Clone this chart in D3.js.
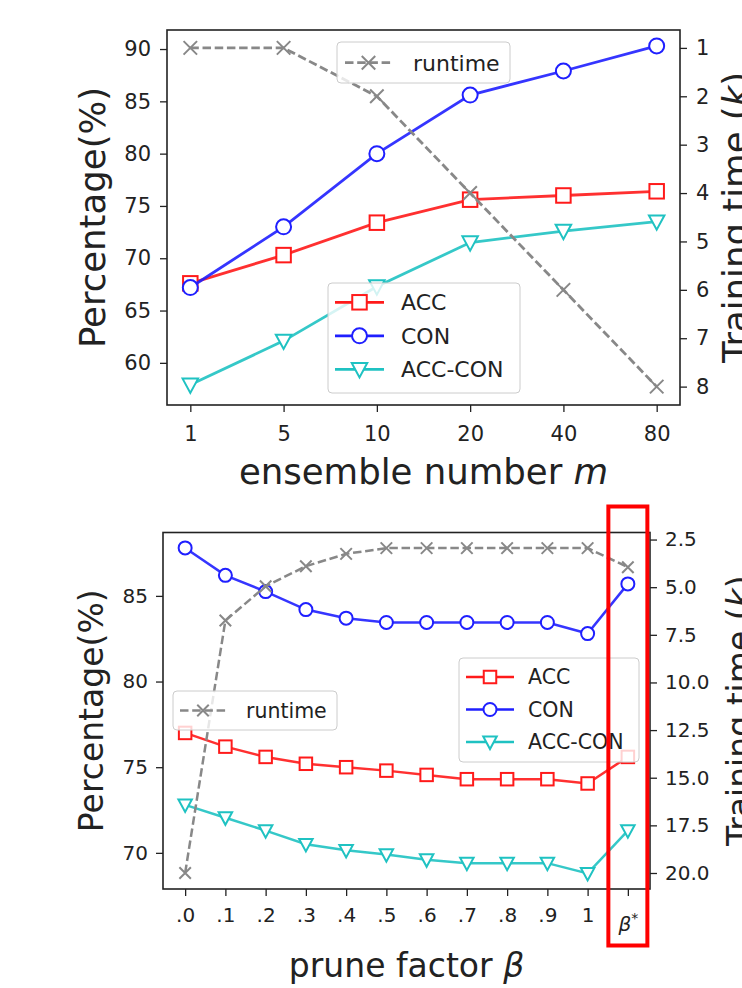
<!DOCTYPE html>
<html>
<head>
<meta charset="utf-8">
<script src="https://cdn.jsdelivr.net/npm/d3@7"></script>
<style>
  body { margin: 0; background: #fff; }
  svg { display: block; font-family: "DejaVu Sans", sans-serif; }
</style>
</head>
<body>
<script>
// top panel: ensemble number m
const mLabels = ["1", "5", "10", "20", "40", "80"];
const mAcc = [67.6, 70.3, 73.4, 75.6, 76.0, 76.4];
const mCon = [67.2, 73.0, 80.0, 85.6, 87.9, 90.3];
const mAccCon = [57.9, 62.1, 67.3, 71.5, 72.6, 73.5];
const mRuntime = [1, 1, 2, 4, 6, 8];
const mPctTicks = [60, 65, 70, 75, 80, 85, 90];
const mTimeTicks = [1, 2, 3, 4, 5, 6, 7, 8];

// bottom panel: prune factor beta
const bLabels = [".0", ".1", ".2", ".3", ".4", ".5", ".6", ".7", ".8", ".9", "1", "β*"];
const bAcc = [77.0, 76.2, 75.6, 75.2, 75.0, 74.8, 74.55, 74.3, 74.3, 74.3, 74.05, 75.6];
const bCon = [87.8, 86.2, 85.25, 84.2, 83.7, 83.45, 83.45, 83.45, 83.45, 83.45, 82.8, 85.7];
const bAccCon = [72.8, 72.05, 71.3, 70.5, 70.15, 69.9, 69.6, 69.4, 69.4, 69.4, 68.8, 71.3];
const bRuntime = [20.0, 6.75, 4.95, 3.9, 3.25, 2.95, 2.95, 2.95, 2.95, 2.95, 2.95, 3.95];
const bPctTicks = [70, 75, 80, 85];
const bTimeTicks = [2.5, 5, 7.5, 10, 12.5, 15, 17.5, 20];

const red = "#ff1a1a", blue = "#1f1fff", cyan = "#1fc2c2", grey = "#888888";

const svg = d3.select("body").append("svg").attr("width", 742).attr("height", 988);

function marker(g, shape, cx, cy, color, s, sw) {
  if (shape === "square") {
    g.append("rect").attr("x", cx - s / 2).attr("y", cy - s / 2).attr("width", s).attr("height", s)
      .attr("fill", "#fff").attr("stroke", color).attr("stroke-width", sw);
  } else if (shape === "circle") {
    g.append("circle").attr("cx", cx).attr("cy", cy).attr("r", s / 2)
      .attr("fill", "#fff").attr("stroke", color).attr("stroke-width", sw);
  } else if (shape === "tri") {
    const h = s / 2;
    g.append("path").attr("d", `M${cx - h},${cy - h * 0.8}L${cx + h},${cy - h * 0.8}L${cx},${cy + h * 1.05}Z`)
      .attr("fill", "#fff").attr("stroke", color).attr("stroke-width", sw).attr("stroke-linejoin", "miter");
  } else {
    const h = s / 2;
    g.append("path").attr("d", `M${cx - h},${cy - h}L${cx + h},${cy + h}M${cx - h},${cy + h}L${cx + h},${cy - h}`)
      .attr("stroke", color).attr("stroke-width", sw);
  }
}

function legend(g, box, rows, font, lw) {
  g.append("rect").attr("x", box.x).attr("y", box.y).attr("width", box.w).attr("height", box.h)
    .attr("rx", 4).attr("fill", "#fff").attr("fill-opacity", 0.8)
    .attr("stroke", "#cccccc").attr("stroke-width", 1);
  rows.forEach((r, i) => {
    const y = box.y0 + i * box.step;
    g.append("line").attr("x1", box.hx0).attr("x2", box.hx1).attr("y1", y).attr("y2", y)
      .attr("stroke", r.color).attr("stroke-width", lw)
      .attr("stroke-dasharray", r.dash ? "8.5,3.7" : null);
    marker(g, r.shape, (box.hx0 + box.hx1) / 2, y, r.color, r.size, 2);
    g.append("text").attr("x", box.tx).attr("y", y).attr("dy", "0.36em")
      .attr("font-size", font).attr("fill", "#222").text(r.name);
  });
}

function panel(o) {
  const g = svg.append("g");
  const x = d3.scalePoint().domain(o.cats).range([o.l, o.r]).padding(o.pad);
  const yL = d3.scaleLinear().domain(o.pctDomain).range([o.b, o.t]);
  const yR = d3.scaleLinear().domain(o.timeDomain).range([o.t, o.b]);

  const xa = g.append("g").attr("transform", `translate(0,${o.b})`)
    .call(d3.axisBottom(x).tickSize(7).tickPadding(o.xPad));
  const ya = g.append("g").attr("transform", `translate(${o.l},0)`)
    .call(d3.axisLeft(yL).tickValues(o.pctTicks).tickSize(7).tickPadding(o.yPad).tickFormat(d3.format("d")));
  const ra = g.append("g").attr("transform", `translate(${o.r},0)`)
    .call(d3.axisRight(yR).tickValues(o.timeTicks).tickSize(7).tickPadding(o.yPad).tickFormat(d3.format(o.timeFmt)));
  [xa, ya, ra].forEach(a => {
    a.select(".domain").remove();
    a.selectAll(".tick line").attr("stroke", "#222").attr("stroke-width", 1.3);
    a.selectAll(".tick text").attr("font-size", o.tickFont).attr("fill", "#222")
      .attr("font-family", "DejaVu Sans");
  });
  xa.selectAll(".tick text").each(function (d) {
    if (d === "β*") {
      const t = d3.select(this).text("");
      t.append("tspan").attr("font-style", "italic").text("β");
      t.append("tspan").attr("font-size", o.tickFont * 0.7).attr("dy", "-0.6em").text("*");
      t.attr("dy", "1.15em");
    }
  });

  const cats = o.cats;
  const line = d3.line().x((d, i) => x(cats[i]));
  const rows = [
    { name: "ACC", v: o.acc, color: red, shape: "square", size: o.ms },
    { name: "CON", v: o.con, color: blue, shape: "circle", size: o.ms + 0.5 },
    { name: "ACC-CON", v: o.accCon, color: cyan, shape: "tri", size: o.ms + 1 }
  ];
  rows.forEach(s => {
    g.append("path").attr("d", line.y(d => yL(d))(s.v)).attr("fill", "none")
      .attr("stroke", s.color).attr("stroke-width", o.lw).attr("stroke-opacity", 0.9);
    s.v.forEach((d, i) => marker(g, s.shape, x(cats[i]), yL(d), s.color, s.size, 2));
  });
  legend(g, o.legA, rows, o.legFont, o.lw);

  g.append("path").attr("d", line.y(d => yR(d))(o.runtime)).attr("fill", "none")
    .attr("stroke", grey).attr("stroke-width", o.lw).attr("stroke-dasharray", "8.5,3.7");
  o.runtime.forEach((d, i) => marker(g, "x", x(cats[i]), yR(d), grey, o.ms - 1, 2));
  legend(g, o.legR, [{ name: "runtime", color: grey, shape: "x", size: o.ms - 1, dash: true }], o.legFont, o.lw);

  g.append("rect").attr("x", o.l).attr("y", o.t).attr("width", o.r - o.l).attr("height", o.b - o.t)
    .attr("fill", "none").attr("stroke", "#222").attr("stroke-width", 1.6);

  const xl = g.append("text").attr("x", (o.l + o.r) / 2).attr("y", o.xLabelY)
    .attr("text-anchor", "middle").attr("font-size", o.labelFont).attr("fill", "#222");
  xl.append("tspan").text(o.xLabel);
  xl.append("tspan").attr("font-style", "italic").text(o.xSym);

  const cy = (o.t + o.b) / 2;
  g.append("text").attr("transform", `translate(${o.yLabelX},${cy}) rotate(-90)`)
    .attr("text-anchor", "middle").attr("font-size", o.labelFont).attr("fill", "#222")
    .text("Percentage(%)");
  const rl = g.append("text").attr("transform", `translate(${o.rLabelX},${cy}) rotate(-90)`)
    .attr("text-anchor", "middle").attr("font-size", o.labelFont).attr("fill", "#222");
  rl.append("tspan").text("Training time (");
  rl.append("tspan").attr("font-style", "italic").text("k");
  rl.append("tspan").text(")");
  return { x, g };
}

panel({
  cats: mLabels, pad: 0.25, l: 167, r: 680, t: 30, b: 405,
  pctDomain: [55.97, 91.82], timeDomain: [0.63, 8.38],
  pctTicks: mPctTicks, timeTicks: mTimeTicks, timeFmt: "d",
  acc: mAcc, con: mCon, accCon: mAccCon, runtime: mRuntime,
  tickFont: 21, legFont: 22, labelFont: 35.5, ms: 14.5, lw: 2.8,
  xPad: 14, yPad: 9,
  xLabel: "ensemble number ", xSym: "m", xLabelY: 484,
  yLabelX: 105, rLabelX: 748,
  legR: { x: 337, y: 42, w: 173, h: 41, y0: 62.7, step: 0, hx0: 345, hx1: 392, tx: 413 },
  legA: { x: 328, y: 283, w: 192, h: 110, y0: 302.3, step: 33.5, hx0: 335, hx1: 384, tx: 401 }
});

const bottom = panel({
  cats: bLabels, pad: 0.55, l: 163, r: 650, t: 532.5, b: 889,
  pctDomain: [67.89, 88.7], timeDomain: [2.13, 20.84],
  pctTicks: bPctTicks, timeTicks: bTimeTicks, timeFmt: ".1f",
  acc: bAcc, con: bCon, accCon: bAccCon, runtime: bRuntime,
  tickFont: 20, legFont: 20.5, labelFont: 33, ms: 12.5, lw: 2.5,
  xPad: 12, yPad: 8,
  xLabel: "prune factor ", xSym: "β", xLabelY: 977,
  yLabelX: 103, rLabelX: 751,
  legR: { x: 173, y: 691, w: 164, h: 39, y0: 710.5, step: 0, hx0: 180, hx1: 226, tx: 246 },
  legA: { x: 459, y: 658, w: 180, h: 104, y0: 677, step: 32.5, hx0: 466, hx1: 514, tx: 528 }
});

// red highlight around the beta* column
const bx = bottom.x("β*");
bottom.g.append("rect").attr("x", bx - 19.5).attr("y", 506.5).attr("width", 39).attr("height", 439)
  .attr("fill", "none").attr("stroke", "#ff0000").attr("stroke-width", 4);
</script>
</body>
</html>
